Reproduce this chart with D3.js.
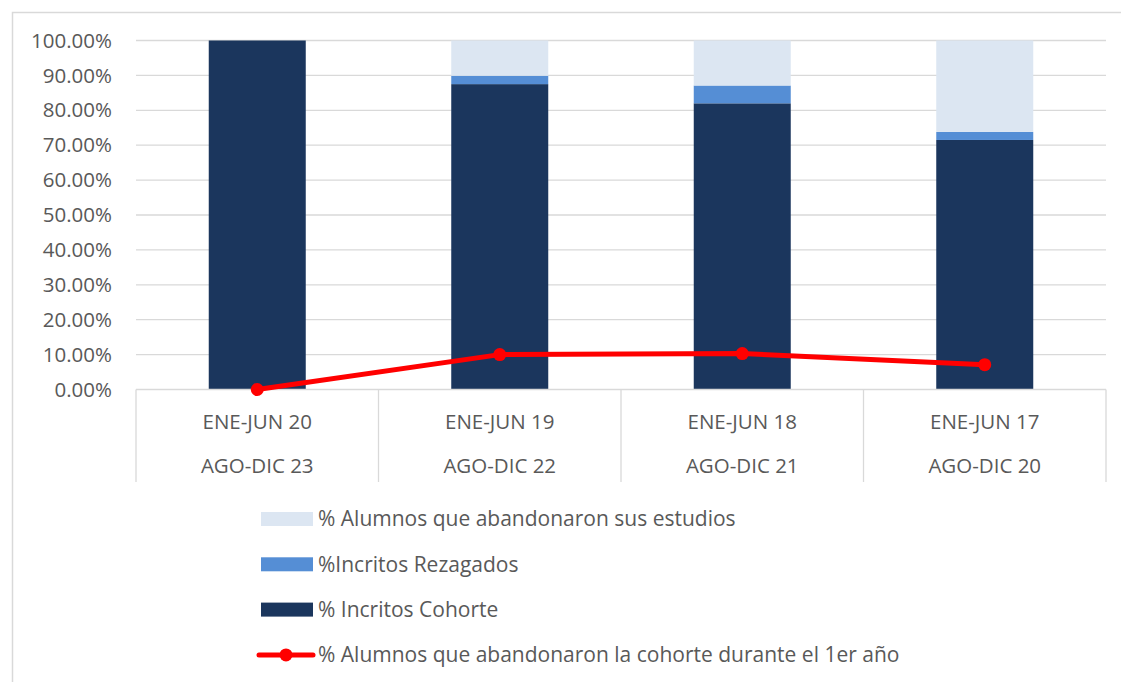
<!DOCTYPE html>
<html lang="es">
<head>
    <style>
        body { margin: 0; background: #fff; }
        svg { display: block; }
    </style>
</head>
<body>
    <svg width="1121" height="682"></svg>
    <script src="https://cdn.jsdelivr.net/npm/d3@7/dist/d3.min.js"></script>
    <script>
        // Data
        const topLabels = ["ENE-JUN 20", "ENE-JUN 19", "ENE-JUN 18", "ENE-JUN 17"];
        const bottomLabels = ["AGO-DIC 23", "AGO-DIC 22", "AGO-DIC 21", "AGO-DIC 20"];
        const cohorte = [100.0, 87.5, 82.0, 71.5];
        const rezagados = [0.0, 2.4, 5.1, 2.3];
        const abandonaron = [0.0, 10.1, 12.9, 26.2];
        const abandonoPrimerAnio = [0.0, 10.0, 10.3, 7.1];
        const yTicks = [0, 10, 20, 30, 40, 50, 60, 70, 80, 90, 100];

        const seriesNames = ["% Incritos Cohorte", "%Incritos Rezagados", "% Alumnos que abandonaron sus estudios"];
        const lineName = "% Alumnos que abandonaron la cohorte durante el 1er año";
        const colors = ["#1b365d", "#558ed5", "#dce6f2"];
        const red = "#ff0000";
        const textColor = "#595959";
        const font = "'Open Sans', 'Liberation Sans', Arial, sans-serif";

        const svg = d3.select("svg");

        // Chart border
        svg.append("rect")
            .attr("x", 12.5).attr("y", 12.5).attr("width", 1120).attr("height", 680)
            .attr("fill", "none").attr("stroke", "#d9d9d9").attr("stroke-width", 1.5);

        const plotLeft = 136, plotRight = 1106, plotTop = 40.5, plotBottom = 389.5;

        const x = d3.scaleBand().domain(d3.range(topLabels.length)).range([plotLeft, plotRight]).paddingInner(0.6).paddingOuter(0.3);
        const xCat = d3.scaleBand().domain(d3.range(topLabels.length)).range([plotLeft, plotRight]);
        const y = d3.scaleLinear().domain([0, 100]).range([plotBottom, plotTop]);

        // Gridlines
        svg.append("g").selectAll("line").data(yTicks.filter(t => t > 0)).enter()
            .append("line")
            .attr("x1", plotLeft).attr("x2", plotRight)
            .attr("y1", d => y(d)).attr("y2", d => y(d))
            .attr("stroke", "#d9d9d9").attr("stroke-width", 1.3);

        // Y tick labels
        svg.append("g").selectAll("text").data(yTicks).enter()
            .append("text")
            .attr("x", 112).attr("y", d => y(d))
            .attr("dy", "0.35em")
            .attr("text-anchor", "end")
            .style("font-family", font).style("font-size", "20.5px").style("fill", textColor)
            .text(d => d3.format(".2f")(d) + "%");

        // Stacked bars
        const table = topLabels.map((_, i) => ({ i: i, c: cohorte[i], r: rezagados[i], a: abandonaron[i] }));
        const stack = d3.stack().keys(["c", "r", "a"])(table);
        svg.append("g").selectAll("g").data(stack).enter()
            .append("g")
            .attr("fill", (d, k) => colors[k])
            .selectAll("rect").data(d => d).enter()
            .append("rect")
            .attr("x", d => x(d.data.i))
            .attr("width", x.bandwidth())
            .attr("y", d => y(Math.min(d[1], 100)))
            .attr("height", d => Math.max(0, y(d[0]) - y(Math.min(d[1], 100))));

        // Category axis box
        const axisG = svg.append("g");
        axisG.append("line")
            .attr("x1", plotLeft).attr("x2", plotRight).attr("y1", plotBottom).attr("y2", plotBottom)
            .attr("stroke", "#d9d9d9").attr("stroke-width", 1.3);
        axisG.selectAll(".div").data(d3.range(topLabels.length + 1)).enter()
            .append("line")
            .attr("x1", d => plotLeft + d * xCat.step()).attr("x2", d => plotLeft + d * xCat.step())
            .attr("y1", plotBottom).attr("y2", 482)
            .attr("stroke", "#d9d9d9").attr("stroke-width", 1.3);
        axisG.selectAll(".top").data(topLabels).enter()
            .append("text")
            .attr("x", (d, i) => xCat(i) + xCat.bandwidth() / 2).attr("y", 422)
            .attr("dy", "0.35em").attr("text-anchor", "middle")
            .style("font-family", font).style("font-size", "20.5px").style("fill", textColor)
            .text(d => d);
        axisG.selectAll(".bot").data(bottomLabels).enter()
            .append("text")
            .attr("x", (d, i) => xCat(i) + xCat.bandwidth() / 2).attr("y", 466)
            .attr("dy", "0.35em").attr("text-anchor", "middle")
            .style("font-family", font).style("font-size", "20.5px").style("fill", textColor)
            .text(d => d);

        // Line series
        const line = d3.line().x((d, i) => x(i) + x.bandwidth() / 2).y(d => y(d));
        svg.append("path")
            .datum(abandonoPrimerAnio)
            .attr("d", line)
            .attr("fill", "none").attr("stroke", red).attr("stroke-width", 5)
            .attr("stroke-linejoin", "round").attr("stroke-linecap", "round");
        svg.append("g").selectAll("circle").data(abandonoPrimerAnio).enter()
            .append("circle")
            .attr("cx", (d, i) => x(i) + x.bandwidth() / 2).attr("cy", d => y(d))
            .attr("r", 6.5).attr("fill", red);

        // Legend
        const legendItems = [
            { name: seriesNames[2], color: colors[2], type: "rect" },
            { name: seriesNames[1], color: colors[1], type: "rect" },
            { name: seriesNames[0], color: colors[0], type: "rect" },
            { name: lineName, color: red, type: "line" }
        ];
        const legend = svg.append("g").selectAll("g").data(legendItems).enter()
            .append("g")
            .attr("transform", (d, i) => `translate(261, ${519 + i * 45.3})`);
        legend.filter(d => d.type === "rect").append("rect")
            .attr("x", 0).attr("y", -7).attr("width", 52).attr("height", 14)
            .attr("fill", d => d.color);
        legend.filter(d => d.type === "line").append("line")
            .attr("x1", -2).attr("x2", 52).attr("y1", 0).attr("y2", 0)
            .attr("stroke", red).attr("stroke-width", 5).attr("stroke-linecap", "round");
        legend.filter(d => d.type === "line").append("circle")
            .attr("cx", 25).attr("cy", 0).attr("r", 6.5).attr("fill", red);
        legend.append("text")
            .attr("x", 57).attr("y", 0).attr("dy", "0.35em")
            .style("font-family", font).style("font-size", "21px").style("fill", textColor)
            .text(d => d.name);
    </script>
</body>
</html>
